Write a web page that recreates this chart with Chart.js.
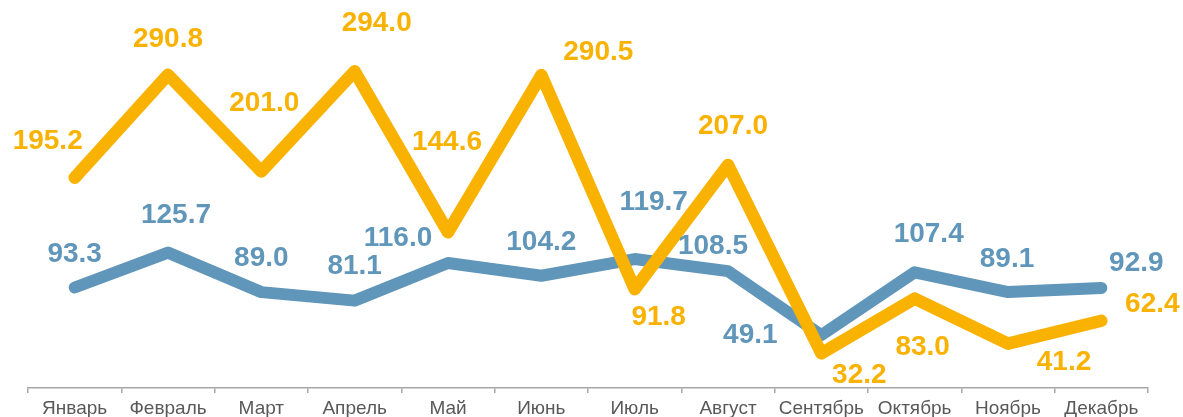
<!DOCTYPE html>
<html>
<head>
<meta charset="utf-8">
<script src="https://cdn.jsdelivr.net/npm/chart.js@4/dist/chart.umd.min.js"></script>
<style>
  html, body { margin: 0; padding: 0; background: #ffffff; }
  #wrap { width: 1183px; height: 417px; }
</style>
</head>
<body>
<div id="wrap"><canvas id="c" width="1183" height="417"></canvas></div>
<script>
const months = ["Январь", "Февраль", "Март", "Апрель", "Май", "Июнь", "Июль", "Август", "Сентябрь", "Октябрь", "Ноябрь", "Декабрь"];
const seriesOrange = [195.2, 290.8, 201.0, 294.0, 144.6, 290.5, 91.8, 207.0, 32.2, 83.0, 41.2, 62.4];
const seriesBlue = [93.3, 125.7, 89.0, 81.1, 116.0, 104.2, 119.7, 108.5, 49.1, 107.4, 89.1, 92.9];

// label placement (pixel offsets from each point), kept separate from data
const orangeLabelOffsets = [[-27,-36],[0,-35],[3,-68],[22,-48],[-1,-90],[57,-23],[24,28],[5,-39],[38,22],[8,49],[56,19],[51,-17]];
const blueLabelOffsets = [[0,-33],[8,-37],[0,-34],[0,-34],[-50,-25],[0,-33],[19,-57],[-15,-25],[-71,0],[14,-38],[-1,-33],[35,-25]];

const ORANGE = '#F9B200';
const BLUE = '#6096B9';

const labelPlugin = {
  id: 'valueLabels',
  afterDatasetsDraw(chart) {
    const ctx = chart.ctx;
    ctx.save();
    ctx.font = 'bold 28px "Liberation Sans", Arial, sans-serif';
    ctx.textAlign = 'center';
    ctx.textBaseline = 'middle';
    chart.data.datasets.forEach((ds, i) => {
      const meta = chart.getDatasetMeta(i);
      const offs = ds.labelOffsets;
      ctx.fillStyle = ds.borderColor;
      meta.data.forEach((el, j) => {
        const o = offs[j];
        ctx.fillText(ds.data[j].toFixed(1), el.x + o[0], el.y + o[1]);
      });
    });
    ctx.restore();
  }
};

new Chart(document.getElementById('c'), {
  type: 'line',
  data: {
    labels: months,
    datasets: [
      {
        label: 'orange',
        data: seriesOrange,
        borderColor: ORANGE,
        backgroundColor: ORANGE,
        borderWidth: 12.5,
        borderCapStyle: 'round',
        borderJoinStyle: 'round',
        pointRadius: 0,
        tension: 0,
        labelOffsets: orangeLabelOffsets
      },
      {
        label: 'blue',
        data: seriesBlue,
        borderColor: BLUE,
        backgroundColor: BLUE,
        borderWidth: 12,
        borderCapStyle: 'round',
        borderJoinStyle: 'round',
        pointRadius: 0,
        tension: 0,
        labelOffsets: blueLabelOffsets
      }
    ]
  },
  options: {
    responsive: false,
    devicePixelRatio: 1,
    animation: false,
    layout: { padding: { left: 28, right: 35, top: 11, bottom: 0 } },
    plugins: { legend: { display: false }, tooltip: { enabled: false } },
    scales: {
      x: {
        type: 'category',
        offset: true,
        afterFit(scale) { scale.height = 29; },
        grid: {
          display: true,
          offset: true,
          drawOnChartArea: false,
          drawTicks: true,
          tickLength: 5,
          color: '#A6A6A6',
          lineWidth: 1.5
        },
        border: { display: true, color: '#A6A6A6', width: 1.5 },
        ticks: {
          color: '#595959',
          font: { size: 19, family: '"Liberation Sans", Arial, sans-serif', lineHeight: 0.74 },
          padding: 9,
          maxRotation: 0,
          autoSkip: false
        }
      },
      y: {
        display: false,
        min: 0,
        max: 350
      }
    }
  },
  plugins: [labelPlugin]
});
</script>
</body>
</html>
